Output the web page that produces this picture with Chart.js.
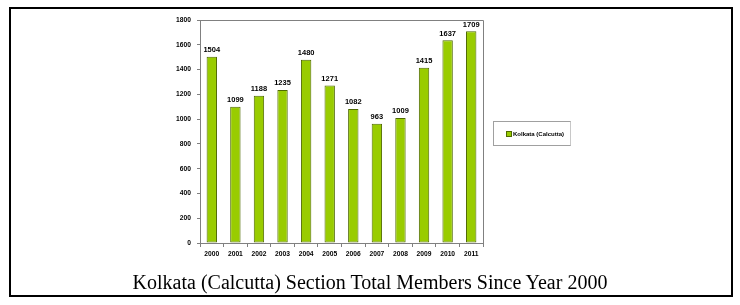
<!DOCTYPE html>
<html>
<head>
<meta charset="utf-8">
<script src="https://cdn.jsdelivr.net/npm/chart.js@4"></script>
<style>
  html, body { margin: 0; padding: 0; background: #fff; }
  #wrap { position: relative; width: 740px; height: 305px; overflow: hidden; }
  #frame { position: absolute; left: 9px; top: 7px; width: 724px; height: 290px; border: 2px solid #000; box-sizing: border-box; }
  #chart { position: absolute; left: 0; top: 0; }
  #legend { position: absolute; left: 493px; top: 121px; width: 78px; height: 25px; border: 1px solid #a0a0a0; border-right-color: #c8c8c8; box-sizing: border-box;
            font: bold 6px "Liberation Sans", Arial, sans-serif; color: #000; display: flex; align-items: center; padding-left: 12px; }
  #legend span.sw { display: inline-block; width: 4px; height: 4px; background: #99cc00; border: 1px solid #4f6a00; margin-right: 1px; }
  #title { position: absolute; left: 0; width: 740px; top: 271px; text-align: center; font: 20px "Liberation Serif", "Times New Roman", serif; color: #000; }
</style>
</head>
<body>
<div id="wrap">
  <canvas id="chart" width="740" height="305"></canvas>
  <div id="frame"></div>
  <div id="legend"><span class="sw"></span>Kolkata (Calcutta)</div>
  <div id="title">Kolkata (Calcutta) Section Total Members Since Year 2000</div>
</div>
<script>
// ==========================================
// DATOS
// ==========================================
const years = ['2000', '2001', '2002', '2003', '2004', '2005', '2006', '2007', '2008', '2009', '2010', '2011'];
const members = [1504, 1099, 1188, 1235, 1480, 1271, 1082, 963, 1009, 1415, 1637, 1709];
const yTicks = [0, 200, 400, 600, 800, 1000, 1200, 1400, 1600, 1800];

// marco gris del área de trazado (arriba y derecha)
const plotFrame = {
    id: 'plotFrame',
    afterDraw(chart) {
        const { ctx, chartArea } = chart;
        ctx.save();
        ctx.strokeStyle = '#808080';
        ctx.lineWidth = 1;
        ctx.beginPath();
        ctx.moveTo(chartArea.left, chartArea.top + 0.5);
        ctx.lineTo(chartArea.right + 0.5, chartArea.top + 0.5);
        ctx.lineTo(chartArea.right + 0.5, chartArea.bottom);
        ctx.stroke();
        ctx.restore();
    }
};

// etiquetas de valor encima de cada barra
const valueLabels = {
    id: 'valueLabels',
    afterDatasetsDraw(chart) {
        const { ctx } = chart;
        const meta = chart.getDatasetMeta(0);
        ctx.save();
        ctx.font = 'bold 7.5px "Liberation Sans", Arial, sans-serif';
        ctx.fillStyle = '#000';
        ctx.textAlign = 'center';
        ctx.textBaseline = 'bottom';
        meta.data.forEach((bar, i) => {
            ctx.fillText(String(members[i]), bar.x, bar.y - 3);
        });
        ctx.restore();
    }
};

const ctx = document.getElementById('chart').getContext('2d');
const chart = new Chart(ctx, {
    type: 'bar',
    data: {
        labels: years,
        datasets: [{
            label: 'Kolkata (Calcutta)',
            data: members,
            backgroundColor: '#99cc00',
            borderColor: '#4f6a00',
            borderWidth: 1,
            borderSkipped: false,
            barPercentage: 0.44,
            categoryPercentage: 1
        }]
    },
    options: {
        responsive: false,
        animation: false,
        layout: { padding: { left: 170, right: 257, top: 20, bottom: 42 } },
        plugins: {
            legend: { display: false },
            tooltip: { enabled: false }
        },
        scales: {
            x: {
                grid: { display: true, drawOnChartArea: false, drawTicks: true, tickLength: 4, color: '#808080', offset: true },
                border: { display: true, color: '#808080' },
                ticks: { color: '#000', font: { family: '"Liberation Sans", Arial, sans-serif', size: 6.7, weight: 'bold' }, padding: 3, maxRotation: 0 },
                afterFit(scale) { scale.height = 20; }
            },
            y: {
                min: 0,
                max: 1800,
                afterBuildTicks(scale) { scale.ticks = yTicks.map(v => ({ value: v })); },
                grid: { display: true, drawOnChartArea: false, drawTicks: true, tickLength: 3, color: '#808080' },
                border: { display: true, color: '#808080' },
                ticks: {
                    color: '#000',
                    font: { family: '"Liberation Sans", Arial, sans-serif', size: 6.7, weight: 'bold' },
                    padding: 6,
                    callback: v => String(v)
                },
                afterFit(scale) { scale.width = 30; }
            }
        }
    },
    plugins: [plotFrame, valueLabels]
});
</script>
</body>
</html>
